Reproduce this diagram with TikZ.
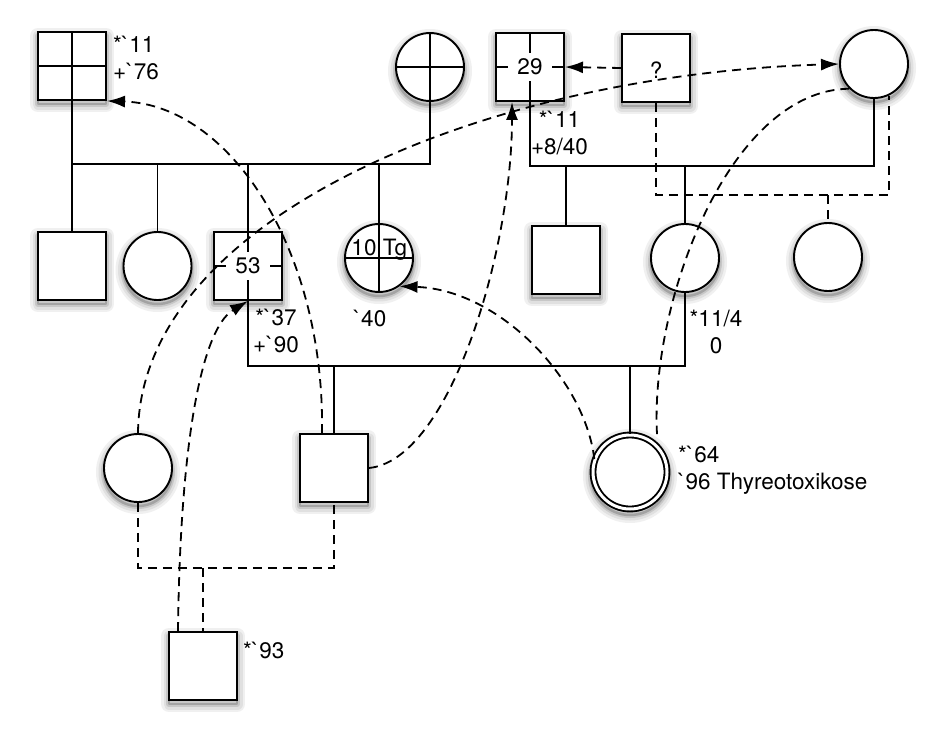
\documentclass[tikz,border=0pt]{standalone}
\usepackage{fontspec}
\newfontfamily\hv{TeX Gyre Heros}[Ligatures=TeXOff]
\usetikzlibrary{arrows.meta,calc}
\pgfdeclarelayer{paper}
\pgfdeclarelayer{shadowlayer}
\pgfsetlayers{paper,shadowlayer,main}
\newcommand\sqsh[1]{%
  \path[sha] ($(#1)+(-34,-30)$) rectangle ($(#1)+(34,38)$);
  \path[shb] ($(#1)+(-34,-30)$) rectangle ($(#1)+(34,38)$);
  \path[shc] ($(#1)+(-34,-30)$) rectangle ($(#1)+(34,38)$);
  \path[shd] ($(#1)+(-34,-30)$) rectangle ($(#1)+(34,38)$);}
\newcommand\cish[2]{%
  \path[sha] ($(#1)+(0,4)$) circle[radius=#2];
  \path[shb] ($(#1)+(0,4)$) circle[radius=#2];
  \path[shc] ($(#1)+(0,4)$) circle[radius=#2];
  \path[shd] ($(#1)+(0,4)$) circle[radius=#2];}
\begin{document}
\begin{tikzpicture}[x=1pt,y=-1pt,
  lw/.style={line width=1.9pt},
  dl/.style={line width=1.8pt,dash pattern=on 9pt off 6pt},
  arr/.style={-{Latex[length=18pt,width=12pt]}},
  sha/.style={draw=black!6,fill=black!6,line width=16pt,line join=round},
  shb/.style={draw=black!12,line width=11pt,line join=round},
  shc/.style={draw=black!22,line width=6pt,line join=round},
  shd/.style={draw=black!36,line width=2.5pt,line join=round},
  sq/.style={draw,lw,fill=white,minimum size=68pt,inner sep=0pt},
  ci/.style={circle,draw,lw,fill=white,minimum size=68pt,inner sep=0pt},
  dci/.style={circle,draw,lw,double=white,double distance=3pt,fill=white,minimum size=74pt,inner sep=0pt},
  cross/.style={path picture={\draw[lw] (path picture bounding box.north) -- (path picture bounding box.south) (path picture bounding box.west) -- (path picture bounding box.east);}},
  lab/.style={font=\hv\fontsize{22.5}{27}\selectfont,inner sep=0pt},
  gapbox/.style={lab,fill=white,minimum width=44pt,minimum height=28pt}
]
\begin{pgfonlayer}{paper}
\fill[white] (0,0) rectangle (944,744);
\end{pgfonlayer}
\useasboundingbox (0,0) rectangle (944,744);

% nodes
\node[sq,cross] (A) at (72,66) {};
\node[ci,cross] (B) at (430,67) {};
\node[sq,cross] (C) at (530,67) {};
\node[gapbox] (Ct) at (C) {29};
\node[sq] (D) at (656,68) {};
\node[lab] (Dt) at ([yshift=-2pt]D.center) {?};
\node[ci] (E) at (874,64) {};

\node[sq] (F1) at (72,266) {};
\node[ci] (F2) at (157.5,266) {};
\node[sq,cross] (F3) at (248,266) {};
\node[gapbox] (F3t) at (F3) {53};
\node[ci,cross] (F4) at (379,258) {};
\node[lab,anchor=base] (F4a) at (364,255) {10};
\node[lab,anchor=base] (F4b) at (395,255) {Tg};
\node[sq] (G1) at (566,260) {};
\node[ci] (G2) at (685,258) {};
\node[ci] (G3) at (828,257) {};

\node[ci] (H1) at (138,468) {};
\node[sq] (H2) at (334,468) {};
\node[dci] (H3) at (630,472) {};

\node[sq] (I) at (203,666) {};

% shadows
\begin{pgfonlayer}{shadowlayer}
\sqsh{A} \sqsh{C} \sqsh{D} \sqsh{F1} \sqsh{F3} \sqsh{G1} \sqsh{H2} \sqsh{I}
\cish{B}{34} \cish{E}{34} \cish{F2}{34} \cish{F4}{34} \cish{G2}{34} \cish{G3}{34} \cish{H1}{34} \cish{H3}{39}
\end{pgfonlayer}

% labels
\node[lab,align=left,anchor=west] (Al) at (113,58) {*`11\\+`76};
\node[lab,align=center] (Cl) at (559.5,133) {*`11\\+8/40};
\node[lab,align=center] (F3l) at (276,331) {*`37\\+`90};
\node[lab] (F4l) at (370,318) {`40};
\node[lab,align=center] (G2l) at (716,332) {*11/4\\0};
\node[lab,align=left,anchor=west] (H3l) at (678,470) {*`64\\`96 Thyreotoxikose};
\node[lab,anchor=west] (Il) at (243,650) {*`93};

% solid pedigree lines
\coordinate (s1) at (72,164);
\draw[lw] (A.south) -- (F1.north);
\draw[lw] (s1) -- (B.south |- s1) -- (B.south);
\draw[lw] (F2.north |- s1) -- (F2.north);
\draw[lw] (F3.north |- s1) -- (F3.north);
\draw[lw] (F4.north |- s1) -- (F4.north);

\coordinate (r1) at (530,166);
\draw[lw] (C.south) -- (r1) -- (E.south |- r1) -- (E.south);
\draw[lw] (G1.north |- r1) -- (G1.north);
\draw[lw] (G2.north |- r1) -- (G2.north);

\coordinate (m1) at (248,366);
\draw[lw] (F3.south) -- (m1) -- (G2.south |- m1) -- (G2.south);
\draw[lw] (H2.north |- m1) -- (H2.north);
\draw[lw] (H3.north |- m1) -- (H3.north);

% dashed pedigree lines
\coordinate (d1) at (656,195);
\draw[dl] (D.south) -- (d1) -- (d1 -| E.-65) -- (E.-65);
\draw[dl] (G3.north |- d1) -- (G3.north);
\coordinate (b1) at (138,568);
\draw[dl] (H1.south) -- (b1) -- (H2.south |- b1) -- (H2.south);
\draw[dl] (I.north |- b1) -- (I.north);

% dashed curves
\draw[dl,arr] (D.west) -- (C.east);
\draw[dl,arr] (H1.north) .. controls (140,220) and (480,75) .. (E.west);
\draw[dl,arr] ([xshift=-12pt]H2.north) .. controls (325,250) and (230,105) .. (A.south east);
\draw[dl,arr] ([xshift=-25pt]I.north) .. controls (180,450) and (200,330) .. (F3.south);
\draw[dl,arr] (H2.east) .. controls (450,460) and (512,250) .. ([xshift=-18pt]C.south);
\draw[dl,arr] (H3.160) .. controls (585,380) and (500,290) .. (F4.-54);
\draw[dl] (E.225) .. controls (730,90) and (650,300) .. ([xshift=27pt]H3.north);
\end{tikzpicture}
\end{document}
